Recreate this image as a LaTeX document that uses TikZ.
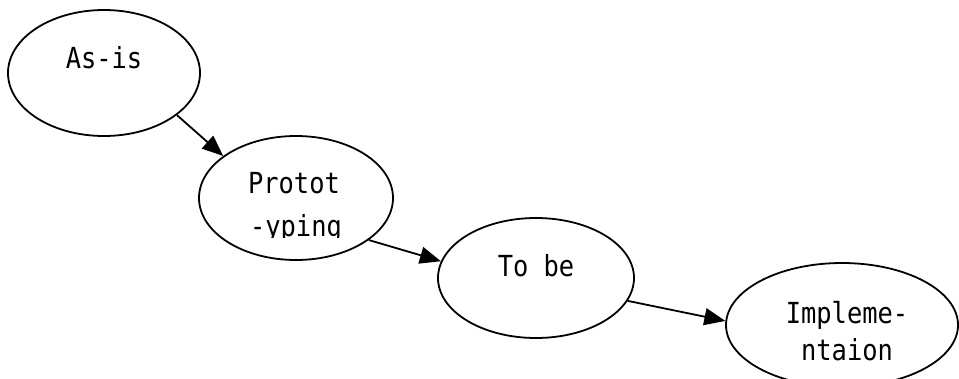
\documentclass[tikz,border=0pt]{standalone}
\usepackage{fontspec}
\newfontfamily\gfont[FakeStretch=0.876]{DejaVu Sans Mono}
\usetikzlibrary{arrows.meta,shapes.geometric}
\begin{document}
\begin{tikzpicture}[x=1pt,y=-1pt,
  stage/.style={draw=black, line width=1.8pt, ellipse, inner sep=0pt},
  lbl/.style={anchor=base, inner sep=0pt, font=\gfont\fontsize{29}{34}\selectfont},
  flow/.style={line width=1.8pt, -{Triangle[length=21pt,width=17pt]}}]
\useasboundingbox (0,0) rectangle (959,378);
\clip (0,0) rectangle (959,378);
\node[stage, minimum width=192pt, minimum height=126pt] (asis) at (104,73) {};
\node[stage, minimum width=194pt, minimum height=124pt] (proto) at (296,198) {};
\node[stage, minimum width=196pt, minimum height=120pt] (tobe) at (536,278) {};
\node[stage, minimum width=232pt, minimum height=124pt] (impl) at (842,325) {};
\node[lbl] (asistext) at (104,68) {As-is};
\node[lbl] (prototext) at (294,193) {Protot};
\begin{scope}
  \clip (230,200) rectangle (370,237);
  \node[lbl] (prototext2) at (296,236) {-yping};
\end{scope}
\node[lbl] (tobetext) at (536,276) {To be};
\node[lbl] (impltext) at (847,323) {Impleme-};
\node[lbl] (impltext2) at (847,360) {ntaion};
\draw[flow] (asis.-30) -- (proto.150);
\draw[flow] (proto.-30) -- (tobe.170);
\draw[flow] (tobe.-14) -- (impl.178);
\end{tikzpicture}
\end{document}
